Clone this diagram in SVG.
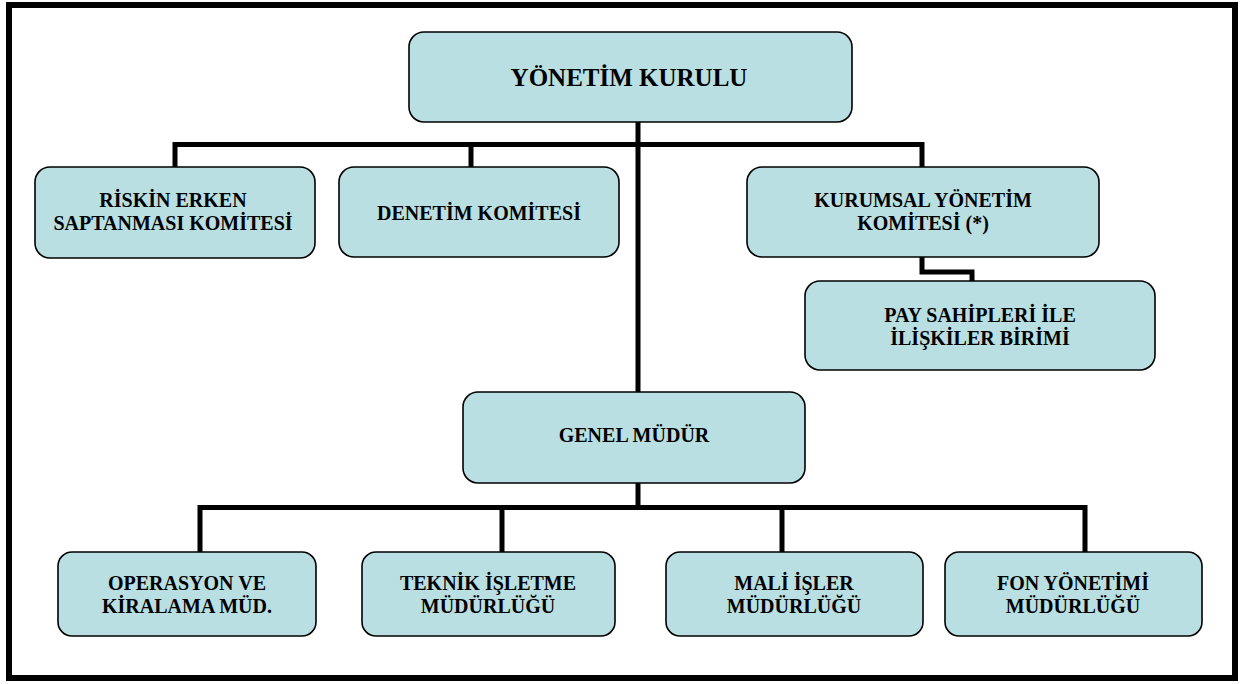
<svg xmlns="http://www.w3.org/2000/svg" width="1241" height="684" viewBox="0 0 1241 684">
<style>
.box{fill:#b9dfe2;stroke:#000;stroke-width:1.6}
text{font-family:'Liberation Serif','Times New Roman',serif;font-weight:bold;font-size:20px;fill:#000;text-anchor:middle}
.big{font-size:25px}
.c{fill:none;stroke:#000;stroke-width:5;stroke-linejoin:miter}
</style>
<rect x="0" y="0" width="1241" height="684" fill="#fff"/>
<rect x="9" y="5" width="1226" height="673" fill="none" stroke="#000" stroke-width="6"/>
<g id="connectors">
<path class="c" d="M175 167 V144.5 H922 V167"/>
<path class="c" d="M471 144.5 V167"/>
<path class="c" d="M638 122 V392"/>
<path class="c" d="M922 257 V272 H972 V281"/>
<path class="c" d="M638 483 V507.5"/>
<path class="c" d="M200 552 V507.5 H1085 V552"/>
<path class="c" d="M502 507.5 V552"/>
<path class="c" d="M782 507.5 V552"/>
</g>
<g id="yonetim-kurulu">
<rect class="box" x="409" y="32" width="443" height="90" rx="15"/>
<text class="big" x="629" y="86">YÖNETİM KURULU</text>
</g>
<g id="riskin">
<rect class="box" x="35" y="167" width="280" height="91" rx="15"/>
<text x="173" y="207">RİSKİN ERKEN</text>
<text x="173" y="230">SAPTANMASI KOMİTESİ</text>
</g>
<g id="denetim">
<rect class="box" x="339" y="167" width="280" height="90" rx="15"/>
<text x="479" y="220">DENETİM KOMİTESİ</text>
</g>
<g id="kurumsal">
<rect class="box" x="747" y="167" width="352" height="90" rx="15"/>
<text x="923" y="207">KURUMSAL YÖNETİM</text>
<text x="923" y="230">KOMİTESİ (*)</text>
</g>
<g id="pay-sahipleri">
<rect class="box" x="805" y="281" width="350" height="89" rx="15"/>
<text x="980" y="322">PAY SAHİPLERİ İLE</text>
<text x="980" y="345">İLİŞKİLER BİRİMİ</text>
</g>
<g id="genel-mudur">
<rect class="box" x="463" y="392" width="342" height="91" rx="15"/>
<text x="634" y="442">GENEL MÜDÜR</text>
</g>
<g id="operasyon">
<rect class="box" x="58" y="552" width="258" height="84" rx="14"/>
<text x="187" y="590">OPERASYON VE</text>
<text x="187" y="613">KİRALAMA MÜD.</text>
</g>
<g id="teknik">
<rect class="box" x="362" y="552" width="253" height="84" rx="14"/>
<text x="488" y="590">TEKNİK İŞLETME</text>
<text x="488" y="613">MÜDÜRLÜĞÜ</text>
</g>
<g id="mali">
<rect class="box" x="666" y="552" width="257" height="84" rx="14"/>
<text x="794" y="590">MALİ İŞLER</text>
<text x="794" y="613">MÜDÜRLÜĞÜ</text>
</g>
<g id="fon">
<rect class="box" x="945" y="552" width="257" height="84" rx="14"/>
<text x="1073" y="590">FON YÖNETİMİ</text>
<text x="1073" y="613">MÜDÜRLÜĞÜ</text>
</g>
</svg>
